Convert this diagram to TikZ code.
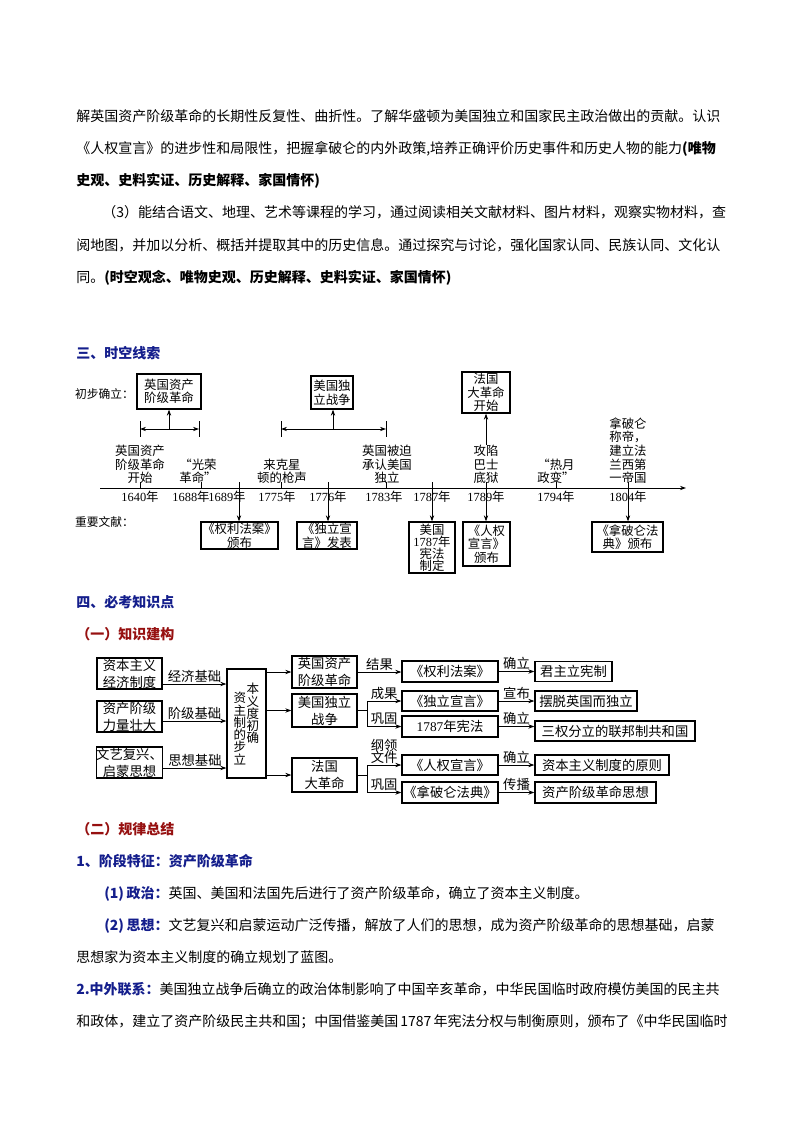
\documentclass[tikz,border=0pt]{standalone}
\usepackage{fontspec}
\setmainfont{Noto Sans CJK SC}
\newfontfamily\sn{Liberation Serif}
\usetikzlibrary{arrows.meta,calc}
\definecolor{hblue}{RGB}{20,30,140}
\definecolor{hred}{RGB}{150,16,16}
\XeTeXlinebreaklocale "zh"
\XeTeXlinebreakskip=0pt plus 2pt minus 0.6pt
\tikzset{
  body/.style={anchor=base west, inner sep=0, font=\fontsize{10.5}{12}\selectfont},
  head/.style={body, font=\fontsize{10.5}{12}\selectfont\bfseries},
  tl/.style={inner sep=0, align=center, font=\fontsize{9.3}{10.2}\selectfont},
  side/.style={inner sep=0, anchor=east, font=\fontsize{8.8}{10}\selectfont},
  bx/.style 2 args={minimum width=#1*0.75pt, minimum height=#2*0.75pt},
  tbox/.style={draw, line width=0.9pt, inner sep=0, align=center, font=\fontsize{9.3}{10.2}\selectfont},
  kbox/.style={draw, line width=0.9pt, inner sep=0, align=center, font=\fontsize{10}{12.75}\selectfont},
  klab/.style={inner sep=0.8pt, font=\fontsize{10}{11}\selectfont},
  ccol/.style={inner sep=0, align=center, font={\fontsize{9.4}{9.2}\selectfont\lineskiplimit=-5pt}},
  arr/.style={-{Stealth[length=4.5pt,width=3.2pt]}, line width=0.7pt},
  dbl/.style={{Stealth[length=4.5pt,width=3.2pt]}-{Stealth[length=4.5pt,width=3.2pt]}, line width=0.7pt},
  ln/.style={line width=0.7pt},
}
\begin{document}
\begin{tikzpicture}[x=0.75pt,y=-0.75pt]
\useasboundingbox (0,0) rectangle (794,1123);
\fill[white] (0,0) rectangle (794,1123);

% ---------- body text top ----------
\node[body] (p1) at (76,122) {\hbox to 484.5pt{解英国资产阶级革命的长期性反复性、曲折性。了解华盛顿为美国独立和国家民主政治做出的贡献。认识}};
\node[body] (p2) at (76,154) {\hbox to 484.5pt{《人权宣言》的进步性和局限性，把握拿破仑的内外政策,培养正确评价历史事件和历史人物的能力\textbf{(唯物}}};
\node[body] (p3) at (76,186) {\textbf{史观、史料实证、历史解释、家国情怀)}};
\node[body] (p4) at (102,218) {\hbox to 465pt{（3）能结合语文、地理、艺术等课程的学习，通过阅读相关文献材料、图片材料，观察实物材料，查}};
\node[body] (p5) at (76,250) {\hbox to 484.5pt{阅地图，并加以分析、概括并提取其中的历史信息。通过探究与讨论，强化国家认同、民族认同、文化认}};
\node[body] (p6) at (76,282) {同。\textbf{(时空观念、唯物史观、历史解释、史料实证、家国情怀)}};

% ---------- timeline ----------
\node[head, text=hblue] (h3) at (76,358) {三、时空线索};
\node[side] (cb) at (134,394) {初步确立：};
\node[tbox, bx={64}{35}] (eng) at (169,391.5) {英国资产\\阶级革命};
\node[tbox, bx={42}{33}] (usa) at (332,392.5) {美国独\\立战争};
\node[tbox, bx={48}{41}] (fra) at (486,392.5) {法国\\大革命\\开始};

\coordinate (axL) at (100,488);
\coordinate (axR) at (686,488);
\draw[arr] (axL) -- (axR);
\foreach \x/\n in {140/a,201/b,239/c,281/d,328/e,386/f,432/g,486/h,556/i,628/j}{
  \coordinate (t\n) at (\x,488);
  \draw[ln] (t\n) -- ++(0,-6);
}

% brackets
\coordinate (b1l) at (140,429);
\coordinate (b1r) at (199,429);
\coordinate (b1c) at (169,429);
\draw[ln] ($(b1l)+(0,-8)$) -- ($(b1l)+(0,8)$);
\draw[ln] ($(b1r)+(0,-8)$) -- ($(b1r)+(0,8)$);
\draw[dbl] (b1l) -- (b1r);
\draw[arr] (b1c) -- (eng.south);

\coordinate (b2l) at (281,429);
\coordinate (b2r) at (386,429);
\coordinate (b2c) at (333,429);
\draw[ln] ($(b2l)+(0,-8)$) -- ($(b2l)+(0,8)$);
\draw[ln] ($(b2r)+(0,-8)$) -- ($(b2r)+(0,8)$);
\draw[dbl] (b2l) -- (b2r);
\draw[arr] (b2c) -- (b2c |- usa.south);

% labels above axis
\node[tl, anchor=south] (l1) at (140,484) {英国资产\\阶级革命\\开始};
\node[tl, anchor=south] (l2) at (198,484) {“光荣\\革命”};
\node[tl, anchor=south] (l3) at (282,484) {来克星\\顿的枪声};
\node[tl, anchor=south] (l4) at (387,484) {英国被迫\\承认美国\\独立};
\node[tl, anchor=south] (l5) at (486,484) {攻陷\\巴士\\底狱};
\node[tl, anchor=south] (l6) at (556,484) {“热月\\政变”};
\node[tl, anchor=south] (l7) at (628,484) {拿破仑\\称帝，\\建立法\\兰西第\\一帝国};
\draw[arr] (l5.north) -- (fra.south);

% years
\node[tl] (y1) at (140,497) {{\sn 1640}年};
\node[tl] (y2) at (191,497) {{\sn 1688}年};
\node[tl] (y3) at (227,497) {{\sn 1689}年};
\node[tl] (y4) at (277,497) {{\sn 1775}年};
\node[tl] (y5) at (328,497) {{\sn 1776}年};
\node[tl] (y6) at (384,497) {{\sn 1783}年};
\node[tl] (y7) at (432,497) {{\sn 1787}年};
\node[tl] (y8) at (486,497) {{\sn 1789}年};
\node[tl] (y9) at (556,497) {{\sn 1794}年};
\node[tl] (y10) at (628,497) {{\sn 1804}年};

% documents
\node[side] (zy) at (134,522) {重要文献：};
\node[tbox, bx={77}{27}] (bill) at (239.5,535.5) {《权利法案》\\颁布};
\node[tbox, bx={60}{27}] (decl) at (327,535.5) {《独立宣\\言》发表};
\node[tbox, bx={46}{51}, font={\fontsize{9.3}{9.1}\selectfont\lineskiplimit=-5pt}] (cons) at (432,547.5) {美国\\{\sn 1787}年\\宪法\\制定};
\node[tbox, bx={47}{44}] (rts) at (486.5,544) {《人权\\宣言》\\颁布};
\node[tbox, bx={71}{30}] (code) at (627.5,537) {《拿破仑法\\典》颁布};
\draw[arr] (tc) -- (tc |- bill.north);
\draw[arr] (te) -- (te |- decl.north);
\draw[arr] (tg) -- (tg |- cons.north);
\draw[arr] (th) -- (th |- rts.north);
\draw[arr] (tj) -- (tj |- code.north);

% ---------- knowledge ----------
\node[head, text=hblue] (h4) at (76,607) {四、必考知识点};
\node[head, text=hred] (h41) at (76,639) {（一）知识建构};

\node[kbox, bx={65}{31}] (k1) at (129.5,673.5) {资本主义\\经济制度};
\node[kbox, bx={65}{31}] (k2) at (129.5,716.5) {资产阶级\\力量壮大};
\node[kbox, bx={65}{31}] (k3) at (129.5,762.5) {文艺复兴、\\启蒙思想};
\node[draw, line width=0.9pt, inner sep=0, bx={39}{109}] (ctr) at (246.5,723.5) {};
\node[ccol, anchor=north] (cl) at (240,692) {资\\主\\制\\的\\步\\立};
\node[ccol, anchor=north] (cr) at (253,683) {本\\义\\度\\初\\确};

\coordinate (e1) at ($(k1.east)+(0,10.5)$);
\coordinate (e2) at ($(k2.east)+(0,4.5)$);
\coordinate (e3) at ($(k3.east)+(0,5.5)$);
\draw[arr] (e1) -- node[klab, above]{经济基础} (e1 -| ctr.west);
\draw[arr] (e2) -- node[klab, above]{阶级基础} (e2 -| ctr.west);
\draw[arr] (e3) -- node[klab, above]{思想基础} (e3 -| ctr.west);

\node[kbox, bx={65}{32}] (m1) at (324.5,672) {英国资产\\阶级革命};
\node[kbox, bx={65}{33}] (m2) at (324.5,710.5) {美国独立\\战争};
\node[kbox, bx={65}{34}] (m3) at (324.5,775) {法国\\大革命};
\draw[arr] (ctr.east |- m1.west) -- (m1.west);
\draw[arr] (ctr.east |- m2.west) -- (m2.west);
\draw[arr] (ctr.east |- m3.west) -- (m3.west);

\node[kbox, bx={96}{21}] (a1) at (450,671.5) {《权利法案》};
\node[kbox, bx={96}{20}] (a2) at (450,701) {《独立宣言》};
\node[kbox, bx={96}{21}] (a3) at (450,726.5) {{\sn 1787}年宪法};
\node[kbox, bx={96}{20}] (a4) at (450,765) {《人权宣言》};
\node[kbox, bx={96}{21}] (a5) at (450,792.5) {《拿破仑法典》};

\draw[arr] (m1.east) -- node[klab, above]{结果} (m1.east -| a1.west);
\coordinate (f2) at (367,710.5);
\draw[ln] (m2.east) -- (f2);
\draw[ln] (f2 |- a2.west) -- (f2 |- a3.west);
\draw[arr] (f2 |- a2.west) -- node[klab, above]{成果} (a2.west);
\draw[arr] (f2 |- a3.west) -- node[klab, above]{巩固} (a3.west);
\coordinate (f3) at (367,775);
\draw[ln] (m3.east) -- (f3);
\draw[ln] (f3 |- a4.west) -- (f3 |- a5.west);
\draw[arr] (f3 |- a4.west) -- node[klab, above, align=center, font={\fontsize{10}{9.2}\selectfont\lineskiplimit=-5pt}]{纲领\\文件} (a4.west);
\draw[arr] (f3 |- a5.west) -- node[klab, above]{巩固} (a5.west);

\node[kbox, bx={77}{20}] (c1) at (573.5,671.5) {君主立宪制};
\node[kbox, bx={102}{20}] (c2) at (586,701) {摆脱英国而独立};
\node[kbox, bx={160}{20}] (c3) at (615,731) {三权分立的联邦制共和国};
\node[kbox, bx={134}{20}] (c4) at (602,765) {资本主义制度的原则};
\node[kbox, bx={121}{21}] (c5) at (595.5,792.5) {资产阶级革命思想};
\draw[arr] (a1.east) -- node[klab, above]{确立} (a1.east -| c1.west);
\draw[arr] (a2.east) -- node[klab, above]{宣布} (a2.east -| c2.west);
\draw[arr] (a3.east) -- node[klab, above]{确立} (a3.east -| c3.west);
\draw[arr] (a4.east) -- node[klab, above]{确立} (a4.east -| c4.west);
\draw[arr] (a5.east) -- node[klab, above]{传播} (a5.east -| c5.west);

% ---------- summary ----------
\node[head, text=hred] (h42) at (76,834) {（二）规律总结};
\node[head, text=hblue] (s1) at (76,866) {1、阶段特征：资产阶级革命};
\node[body] (q1) at (104,898) {{\bfseries\color{hblue}(1)\kern2pt 政治：}英国、美国和法国先后进行了资产阶级革命，确立了资本主义制度。};
\node[body] (q2) at (104,930) {\hbox to 463.5pt{{\bfseries\color{hblue}(2)\kern2pt 思想：}文艺复兴和启蒙运动广泛传播，解放了人们的思想，成为资产阶级革命的思想基础，启蒙}};
\node[body] (q3) at (76,962) {思想家为资本主义制度的确立规划了蓝图。};
\node[body] (q4) at (76,994) {\hbox to 484.5pt{{\bfseries\color{hblue}2.中外联系：}美国独立战争后确立的政治体制影响了中国辛亥革命，中华民国临时政府模仿美国的民主共}};
\node[body] (q5) at (76,1026) {\hbox to 484.5pt{和政体，建立了资产阶级民主共和国；中国借鉴美国 1787 年宪法分权与制衡原则，颁布了《中华民国临时}};
\end{tikzpicture}
\end{document}
